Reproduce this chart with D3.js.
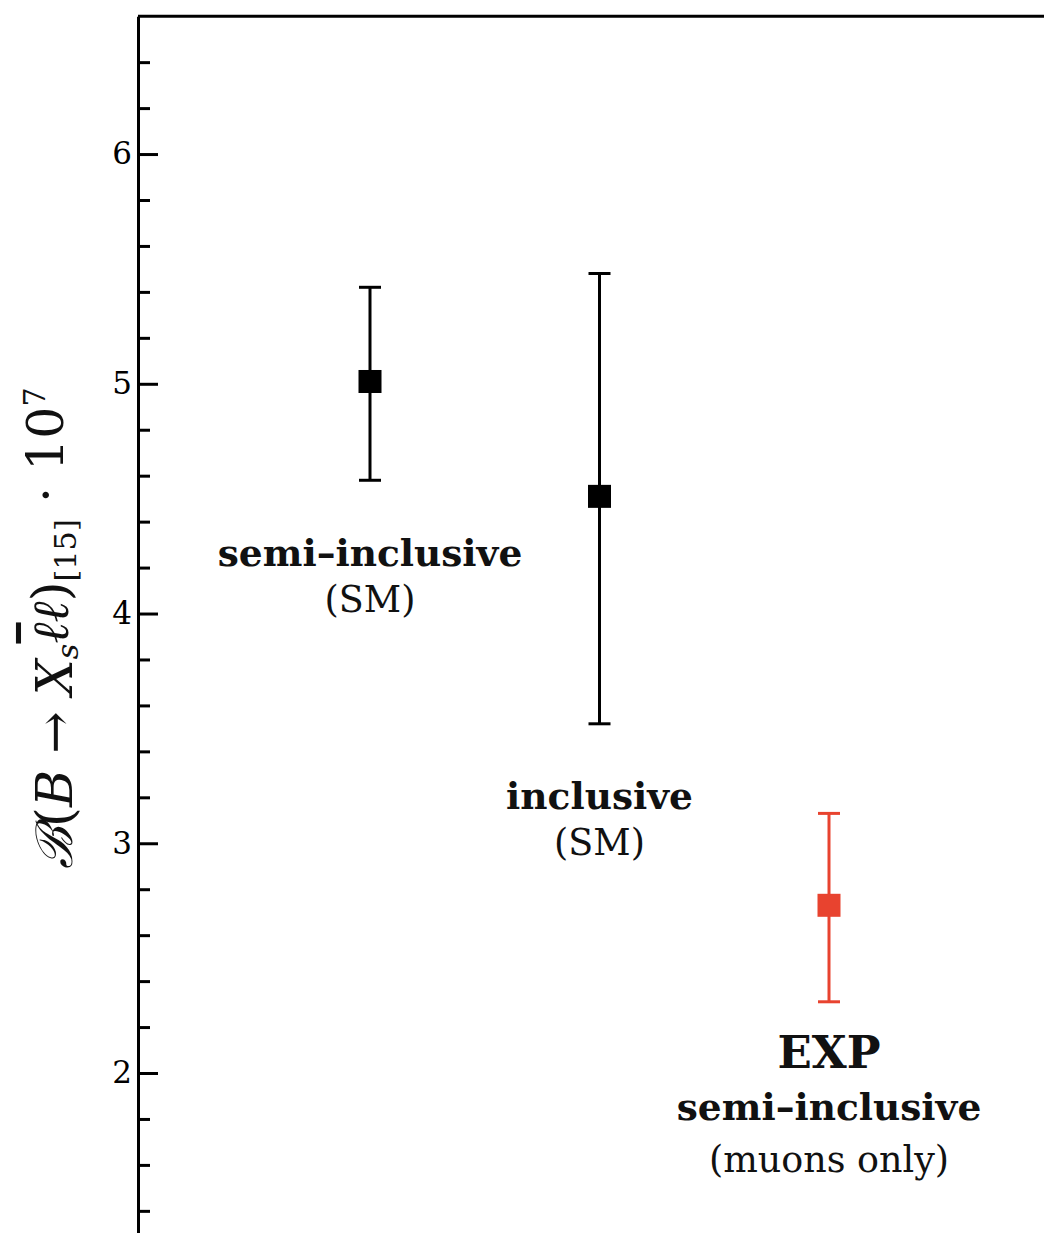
<!DOCTYPE html>
<html>
<head>
<meta charset="utf-8">
<script src="https://cdn.jsdelivr.net/npm/d3@7"></script>
<style>
  html, body { margin: 0; padding: 0; background: #fff; overflow: hidden; }
  svg { display: block; }
</style>
</head>
<body>
<script>
// ---- data ----
const categories = ["semi-inclusive (SM)", "inclusive (SM)", "EXP semi-inclusive (muons only)"];
const positions = [1, 2, 3];
const centralValues = [5.01, 4.51, 2.73];
const upperValues = [5.42, 5.48, 3.13];
const lowerValues = [4.58, 3.52, 2.31];
const pointColors = ["#000000", "#000000", "#e8432f"];
const labelLines = [
  [["semi–inclusive", "bold"], ["(SM)", "normal"]],
  [["inclusive", "bold"], ["(SM)", "normal"]],
  [["EXP", "bigbold"], ["semi–inclusive", "bold"], ["(muons only)", "normal"]]
];
const labelValues = [4.207, 3.149, 2.022]; // value at which first label line sits
const majorTicks = [2, 3, 4, 5, 6];
const minorTicks = [1.4, 1.6, 1.8, 2.2, 2.4, 2.6, 2.8, 3.2, 3.4, 3.6, 3.8, 4.2, 4.4, 4.6, 4.8, 5.2, 5.4, 5.6, 5.8, 6.2, 6.4];

// ---- layout ----
const W = 1044, H = 1233;
const axisX = 138;
const svg = d3.select("body").append("svg").attr("width", W).attr("height", H);

const y = d3.scaleLinear().domain([1.2, 6.6]).range([1256.8, 16.2]);
const x = d3.scaleLinear().domain([0, 4]).range([140.5, 1058.5]);

const serif = "'DejaVu Serif', serif";

// top frame line
svg.append("line")
  .attr("x1", axisX).attr("x2", W + 10)
  .attr("y1", y(6.6)).attr("y2", y(6.6))
  .attr("stroke", "#000").attr("stroke-width", 3);

// minor ticks
const minorAxis = d3.axisLeft(y).tickValues(minorTicks).tickSizeInner(-12).tickSizeOuter(0).tickFormat("");
const gMinor = svg.append("g").attr("transform", `translate(${axisX},0)`).call(minorAxis);
gMinor.select(".domain").remove();
gMinor.selectAll(".tick line").attr("stroke", "#000").attr("stroke-width", 3);

// major axis
const majorAxis = d3.axisLeft(y).tickValues(majorTicks).tickSizeInner(-20).tickSizeOuter(0).tickPadding(6).tickFormat(d3.format("d"));
const gMajor = svg.append("g").attr("transform", `translate(${axisX},0)`).call(majorAxis);
gMajor.select(".domain").attr("stroke", "#000").attr("stroke-width", 3);
gMajor.selectAll(".tick line").attr("stroke", "#000").attr("stroke-width", 3);
gMajor.selectAll(".tick text")
  .attr("font-family", serif).attr("font-size", 31).attr("fill", "#000");

// error bars
const capW = 22, sq = 23;
const pts = positions.map((p, i) => ({ p, c: centralValues[i], hi: upperValues[i], lo: lowerValues[i], col: pointColors[i] }));
const g = svg.append("g");
g.selectAll("line.err").data(pts).join("line")
  .attr("class", "err")
  .attr("x1", d => x(d.p)).attr("x2", d => x(d.p))
  .attr("y1", d => y(d.hi)).attr("y2", d => y(d.lo))
  .attr("stroke", d => d.col).attr("stroke-width", 3);
g.selectAll("line.capT").data(pts).join("line")
  .attr("x1", d => x(d.p) - capW / 2).attr("x2", d => x(d.p) + capW / 2)
  .attr("y1", d => y(d.hi)).attr("y2", d => y(d.hi))
  .attr("stroke", d => d.col).attr("stroke-width", 3);
g.selectAll("line.capB").data(pts).join("line")
  .attr("x1", d => x(d.p) - capW / 2).attr("x2", d => x(d.p) + capW / 2)
  .attr("y1", d => y(d.lo)).attr("y2", d => y(d.lo))
  .attr("stroke", d => d.col).attr("stroke-width", 3);
g.selectAll("rect.pt").data(pts).join("rect")
  .attr("x", d => x(d.p) - sq / 2).attr("y", d => y(d.c) - sq / 2)
  .attr("width", sq).attr("height", sq)
  .attr("fill", d => d.col);

// category labels
labelLines.forEach((lines, i) => {
  const cx = x(positions[i]);
  const by = y(labelValues[i]);
  const gap = i === 2 ? 52 : 46;
  const t = svg.append("g");
  lines.forEach((ln, j) => {
    const style = ln[1];
    t.append("text")
      .attr("x", cx).attr("y", by + j * gap)
      .attr("text-anchor", "middle")
      .attr("font-family", serif)
      .attr("font-size", style === "bigbold" ? 45 : (style === "bold" ? 37.5 : 36.5))
      .attr("font-weight", style === "normal" ? "normal" : "bold")
      .attr("fill", "#111")
      .text(ln[0]);
  });
});

// y axis label
const baseFs = 40;
const yl = svg.append("text")
  .attr("transform", `translate(72,628) rotate(-90)`)
  .attr("text-anchor", "middle")
  .attr("font-family", serif)
  .attr("font-size", baseFs)
  .attr("fill", "#111");
yl.append("tspan").attr("font-style", "italic").text("ℬ");
yl.append("tspan").text("(");
yl.append("tspan").attr("font-style", "italic").text("B");
yl.append("tspan").text(" → ");
yl.append("tspan").attr("font-style", "italic").text("X");
yl.append("tspan").attr("font-style", "italic").attr("font-size", "0.6em").attr("dy", "0.2em").text("s");
yl.append("tspan").attr("font-style", "italic").attr("dy", "-0.2em").attr("text-decoration", "overline").text("ℓ");
yl.append("tspan").attr("font-style", "italic").text("ℓ");
yl.append("tspan").text(")");
yl.append("tspan").attr("font-size", "0.6em").attr("dy", "0.25em").text("[15]");
yl.append("tspan").attr("dy", "-0.25em").text(" · 10");
yl.append("tspan").attr("font-size", "0.6em").attr("dy", "-0.6em").text("7");
// fit total length to the reference extent
const targetLen = 483;
const len = yl.node().getComputedTextLength();
if (len > 0) yl.attr("font-size", baseFs * targetLen / len);
</script>
</body>
</html>
